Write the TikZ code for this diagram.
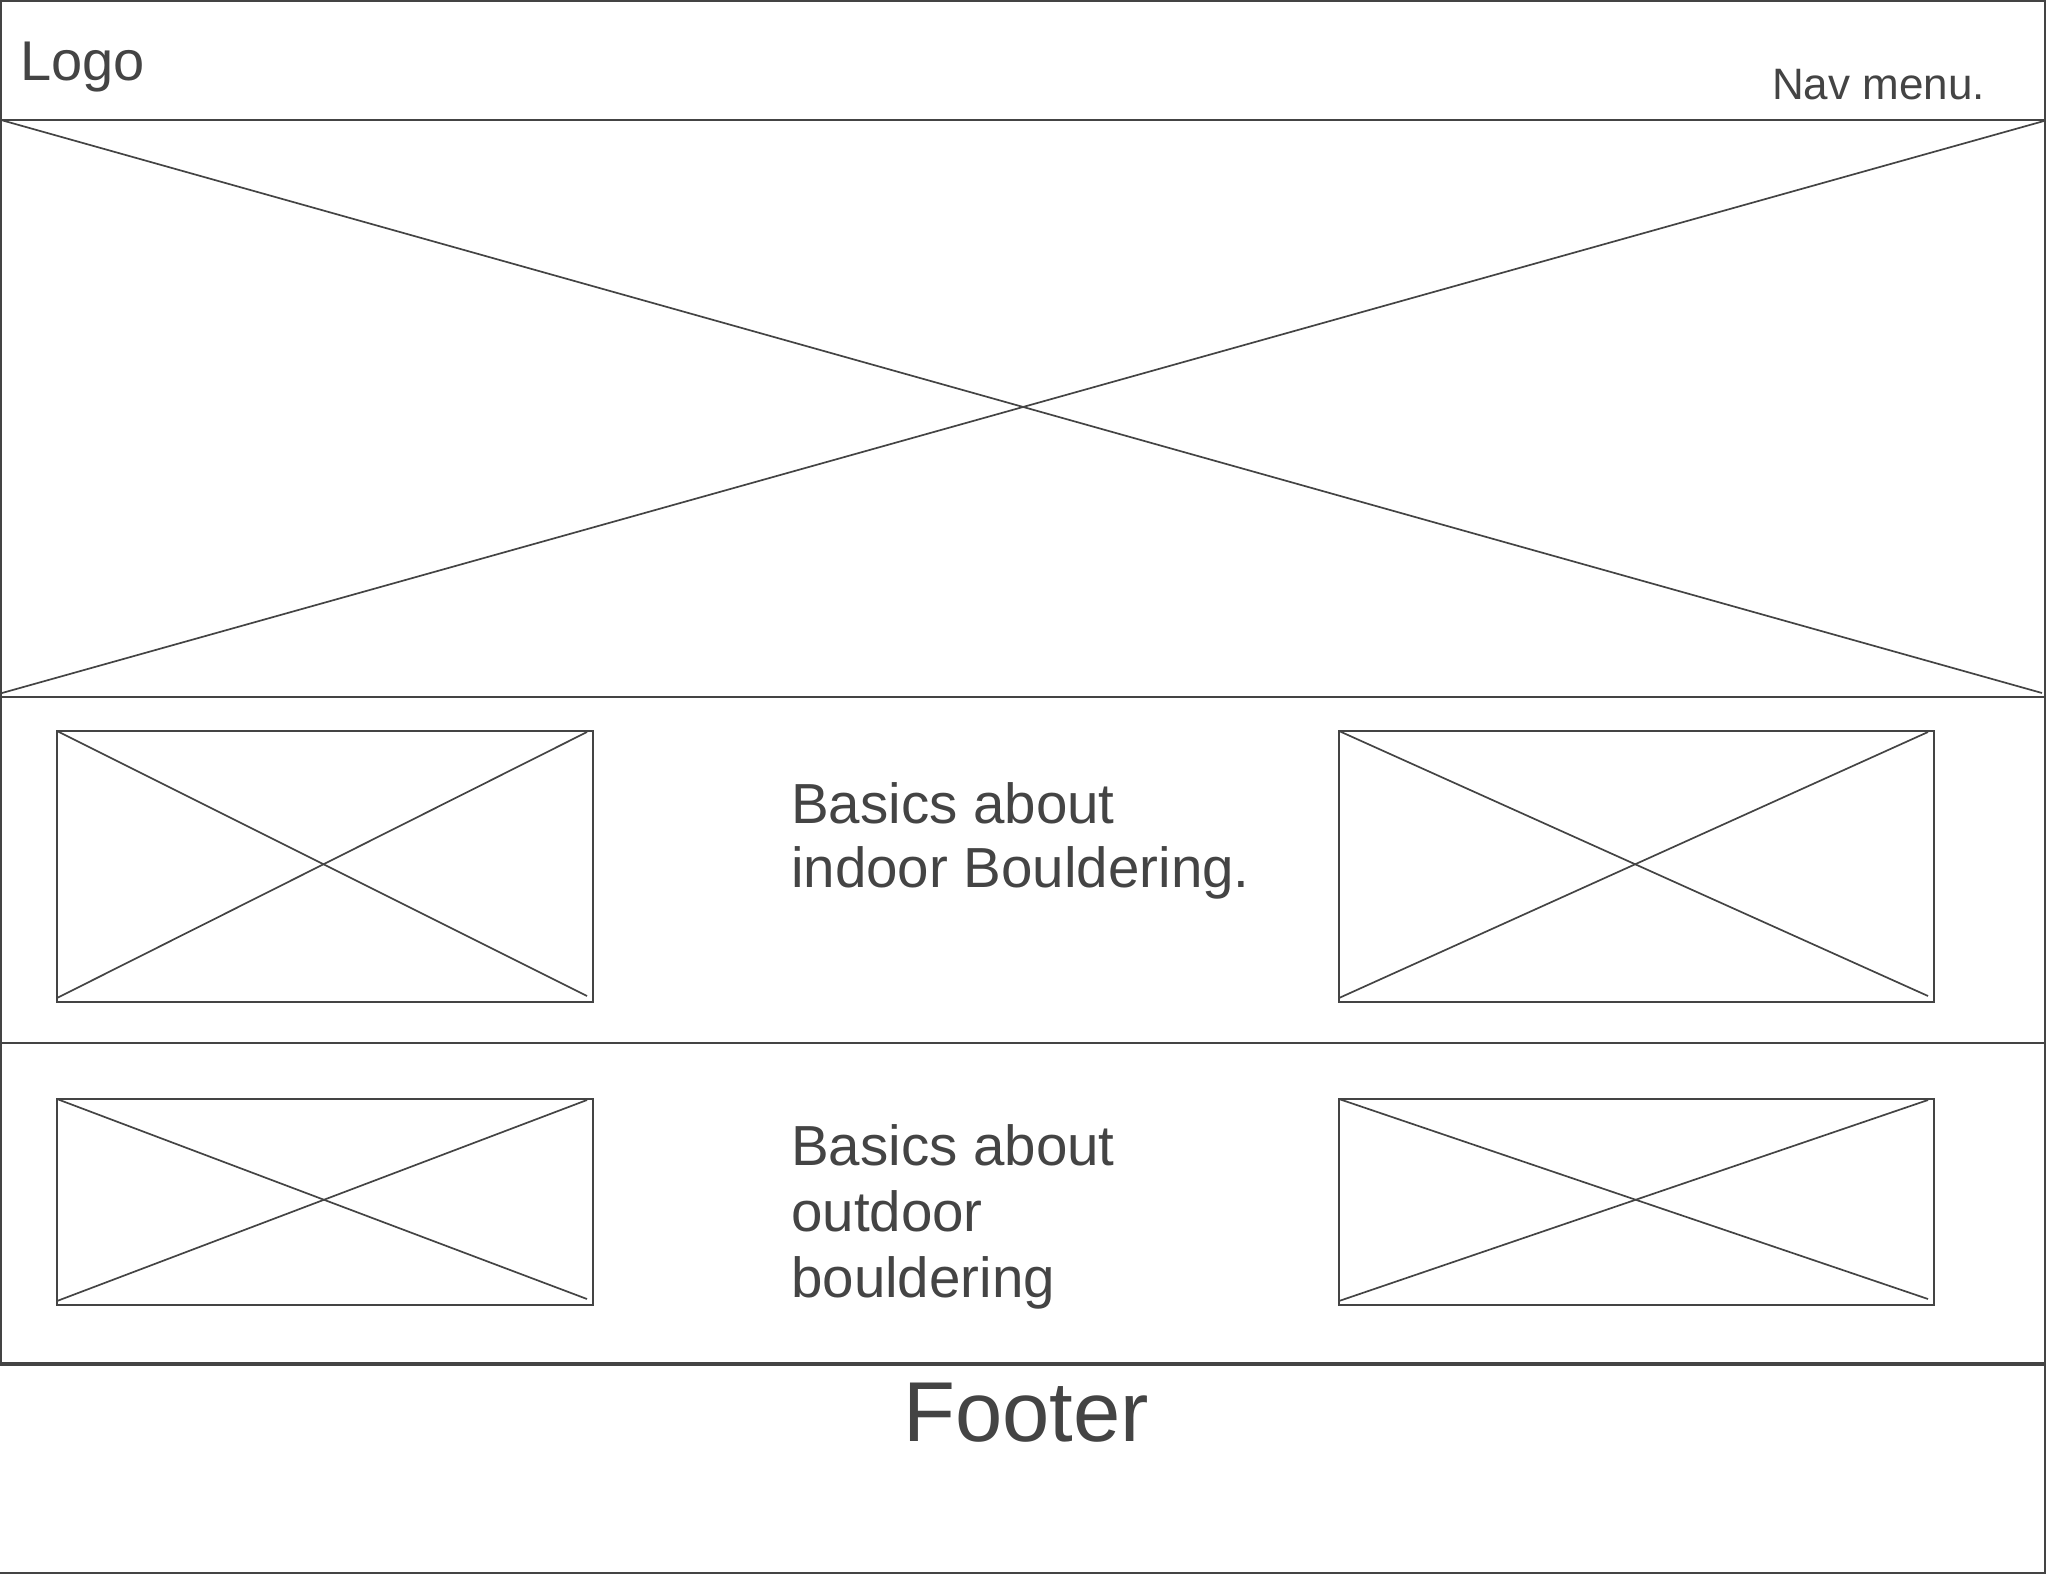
\documentclass[tikz,border=0pt]{standalone}
\usepackage{fontspec}
\setmainfont{Liberation Sans}
\usetikzlibrary{calc}

\definecolor{wire}{HTML}{444444}

\tikzset{
  frame/.style={draw=wire, line width=2pt},
  imgbox/.style={draw=wire, line width=2pt, inner sep=0pt, outer sep=0pt, anchor=north west},
  cross/.style={draw=wire, line width=1.7pt},
  wtext/.style={text=wire, inner sep=0pt, anchor=base west, align=left}
}

\begin{document}
\begin{tikzpicture}[x=1pt, y=-1pt]
\useasboundingbox (0,0) rectangle (2048,1580);

%marco de la pagina y las secciones
\draw [frame] (1,1) rectangle (2045,1363);
\node [imgbox, minimum width=2044, minimum height=577] (hero) at (1,120) {};
\draw [frame] (1,1043) -- (2045,1043);

%pie de pagina (sin borde izquierdo)
\draw [frame] (0,1365) -- (2045,1365) -- (2045,1573) -- (0,1573);

%cruz de la imagen principal
\draw [cross] (hero.north west) -- ($(hero.south east)+(-3,-4)$);
\draw [cross] ($(hero.north east)+(-1,1)$) -- ($(hero.south west)+(1,-4)$);

%imagenes de las dos filas
\foreach \nm/\x/\y/\w/\h in {inA/57/731/536/271, inB/1339/731/595/271,
                             outA/57/1099/536/206, outB/1339/1099/595/206}
{
  \node [imgbox, minimum width=\w, minimum height=\h] (\nm) at (\x,\y) {};
  \draw [cross] (\nm.north west) -- ($(\nm.south east)+(-6,-6)$);
  \draw [cross] ($(\nm.north east)+(-6,1)$) -- ($(\nm.south west)+(0,-4)$);
}

%textos (el ancla base queda en la ultima linea)
\node [wtext, font=\fontsize{56}{64}\selectfont] (logo) at (20,80) {Logo};
\node [wtext, font=\fontsize{44}{50}\selectfont] (nav) at (1772,99) {Nav menu.};
\node [wtext, font=\fontsize{56.5}{63.5}\selectfont] (indoor) at (791,887)
  {Basics about\\indoor Bouldering.};
\node [wtext, font=\fontsize{56.5}{66}\selectfont] (outdoor) at (791,1297)
  {Basics about\\outdoor\\bouldering};
\node [wtext, font=\fontsize{85}{90}\selectfont] (footer) at (903,1441) {Footer};
\end{tikzpicture}
\end{document}
